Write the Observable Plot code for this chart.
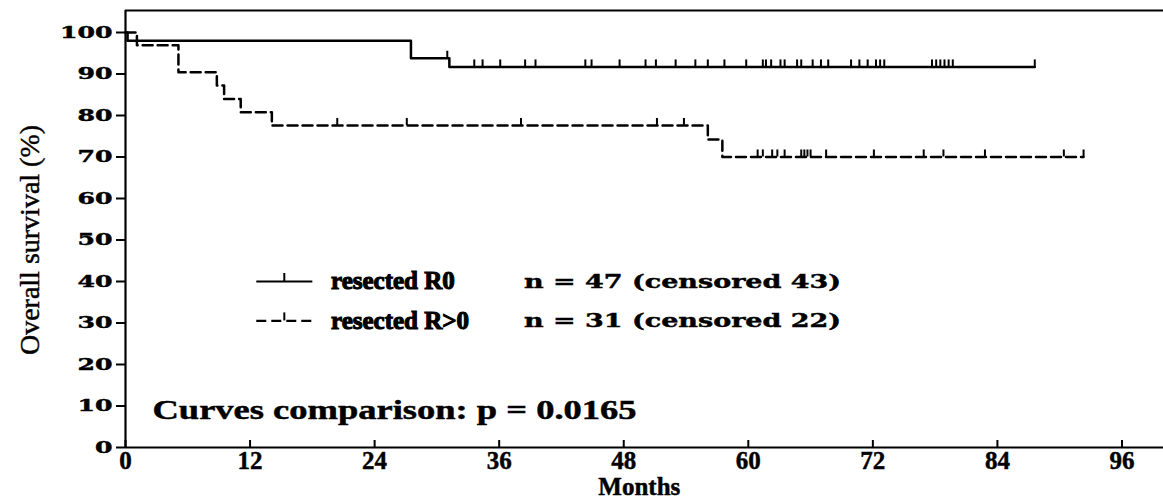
<!DOCTYPE html>
<html><head><meta charset="utf-8">
<script src="https://cdn.jsdelivr.net/npm/d3@7"></script>
<script src="https://cdn.jsdelivr.net/npm/@observablehq/plot@0.6"></script>
<style>body{margin:0;background:#fff}</style>
</head><body><div id="chart"></div>
<script>
// ---- data ----
const r0StepMonths   = [0, 0.2, 27.5, 31.2, 87.6];
const r0StepSurvival = [100, 98.0, 93.8, 91.7, 91.7];
const r0CensorMonths = [31.0, 33.6, 34.4, 36.1, 38.5, 39.5, 44.3, 44.9, 47.6, 50.1, 51.1, 53.0, 54.9, 56.1, 57.7, 59.8,
  61.4, 61.7, 62.2, 63.1, 63.5, 64.7, 65.1, 66.2, 67.0, 67.7, 69.9, 70.7, 71.5, 72.3, 72.7, 73.1,
  77.7, 78.1, 78.5, 78.9, 79.3, 79.7, 87.6];
const rpStepMonths   = [0, 1.1, 5.1, 8.8, 9.5, 11.1, 14.1, 56.1, 57.5, 92.3];
const rpStepSurvival = [100, 96.9, 90.4, 87.2, 84.0, 80.8, 77.6, 74.2, 70.0, 70.0];
const rpCensorMonths = [20.4, 27.1, 38.1, 51.2, 53.8, 60.9, 61.4, 62.3, 62.8, 63.5, 65.1, 65.4, 65.7, 66.0,
  67.5, 72.1, 76.9, 78.8, 82.8, 90.4, 92.3];
const seriesNames  = ["resected R0", "resected R>0"];
const seriesCounts = ["n = 47 (censored 43)", "n = 31 (censored 22)"];
const pValueText = "Curves comparison: p = 0.0165";
const xTicks = [0, 12, 24, 36, 48, 60, 72, 84, 96];
const yTicks = [0, 10, 20, 30, 40, 50, 60, 70, 80, 90, 100];
const xLabel = "Months";
const yLabel = "Overall survival (%)";

// ---- layout (in scale units) ----
const xMax = 100, yMax = 105.3;
const legendRows = [40, 30.5];
const legendSample = [12.6, 18.0];
const legendTextX = 19.8, legendCountX = 38.4;
const pTextPos = {x: 2.6, y: 9};
const dash = "10,5";

const stepAt = (months, surv, t) => { let v = surv[0]; for (let i = 0; i < months.length; i++) if (months[i] <= t) v = surv[i]; return v; };
const curve = (m, s, name) => m.map((t, i) => ({month: t, surv: s[i], series: name}));
const r0Curve = curve(r0StepMonths, r0StepSurvival, seriesNames[0]);
const rpCurve = curve(rpStepMonths, rpStepSurvival, seriesNames[1]);
const r0Cens = r0CensorMonths.map(t => ({month: t, surv: stepAt(r0StepMonths, r0StepSurvival, t)}));
const rpCens = rpCensorMonths.map(t => ({month: t, surv: stepAt(rpStepMonths, rpStepSurvival, t)}));

const legendLines = [
  {series: seriesNames[0], x1: legendSample[0], x2: legendSample[1], y: legendRows[0], dashed: false},
  {series: seriesNames[1], x1: legendSample[0], x2: legendSample[1], y: legendRows[1], dashed: true}
];
const legendTicks = legendLines.map(d => ({month: (d.x1 + d.x2) / 2, surv: d.y}));
const legendText = seriesNames.map((s, i) => ({name: s, count: seriesCounts[i], y: legendRows[i]}));

const serif = "Liberation Serif, Times New Roman, serif";
const wide = "DejaVu Serif, serif";

const plot = Plot.plot({
  width: 1163, height: 498,
  marginLeft: 125, marginRight: 0, marginTop: 10, marginBottom: 51,
  x: {domain: [0, xMax]},
  y: {domain: [0, yMax]},
  style: {background: "#fff", color: "#000"},
  marks: [
    Plot.axisY(yTicks, {tickSize: 9, tickPadding: 4, label: null, strokeWidth: 2}),
    Plot.axisX(xTicks, {tickSize: 0, tickPadding: 4, label: null}),
    Plot.ruleX(xTicks, {y1: 0, y2: 0, insetBottom: 7, stroke: "#000", strokeWidth: 2}),
    Plot.ruleY([0], {stroke: "#000", strokeWidth: 2.2}),
    Plot.ruleX([0], {stroke: "#000", strokeWidth: 2.2}),
    Plot.ruleY([yMax], {stroke: "#000", strokeWidth: 2}),
    Plot.line(r0Curve, {x: "month", y: "surv", curve: "step-after", stroke: "#000", strokeWidth: 2.5}),
    Plot.line(rpCurve, {x: "month", y: "surv", curve: "step-after", stroke: "#000", strokeWidth: 2.5, strokeDasharray: dash}),
    Plot.ruleX(r0Cens, {x: "month", y1: "surv", y2: "surv", insetBottom: 7, stroke: "#000", strokeWidth: 2}),
    Plot.ruleX(rpCens, {x: "month", y1: "surv", y2: "surv", insetBottom: 7, stroke: "#000", strokeWidth: 2}),
    // legend
    Plot.link(legendLines.filter(d => !d.dashed), {x1: "x1", x2: "x2", y1: "y", y2: "y", stroke: "#000", strokeWidth: 2.2}),
    Plot.link(legendLines.filter(d => d.dashed), {x1: "x1", x2: "x2", y1: "y", y2: "y", stroke: "#000", strokeWidth: 2.2, strokeDasharray: dash}),
    Plot.ruleX(legendTicks, {x: "month", y1: "surv", y2: "surv", insetBottom: 8, stroke: "#000", strokeWidth: 2}),
    Plot.text(legendText, {x: legendTextX, y: "y", text: "name", textAnchor: "start", fontSize: 25, fontFamily: serif, fontWeight: "bold"}),
    Plot.text(legendText, {x: legendCountX, y: "y", text: "count", textAnchor: "start", fontSize: 19, fontFamily: wide, fontWeight: "bold"}),
    Plot.text([pValueText], {x: pTextPos.x, y: pTextPos.y, text: d => d, textAnchor: "start", fontSize: 27, fontFamily: serif, fontWeight: "bold"}),
    Plot.text([yLabel], {frameAnchor: "left", y: 50, dx: -95, rotate: -90, textAnchor: "middle", text: d => d, fontSize: 28, fontFamily: serif}),
    Plot.text([xLabel], {frameAnchor: "bottom", x: 49.5, dy: 47, textAnchor: "middle", text: d => d, fontSize: 25, fontFamily: serif, fontWeight: "bold"})
  ]
});
document.getElementById("chart").appendChild(plot);
const svg = d3.select(plot);
svg.selectAll('g[aria-label="y-axis tick label"] text')
  .style("font-family", wide).style("font-weight", "bold").style("font-size", "17px")
  .each(function() { d3.select(this).attr("textLength", this.textContent.length * 17.5).attr("lengthAdjust", "spacingAndGlyphs"); });
svg.selectAll('g[aria-label="x-axis tick label"] text')
  .style("font-family", serif).style("font-weight", "bold").style("font-size", "25px");
svg.selectAll("text").filter(function() { return this.textContent === pValueText; })
  .attr("textLength", 484).attr("lengthAdjust", "spacingAndGlyphs");
svg.selectAll("text").filter(function() { return seriesCounts.includes(this.textContent); })
  .attr("textLength", 317).attr("lengthAdjust", "spacingAndGlyphs");
svg.selectAll("text").style("stroke", "#000").style("stroke-width", "0.45px");
svg.selectAll("text").filter(function() { return seriesNames.includes(this.textContent); })
  .style("font-family", "Liberation Serif").style("font-weight", "700").style("font-size", "25px")
  .style("stroke-width", "1.1px");
</script>
</body></html>
